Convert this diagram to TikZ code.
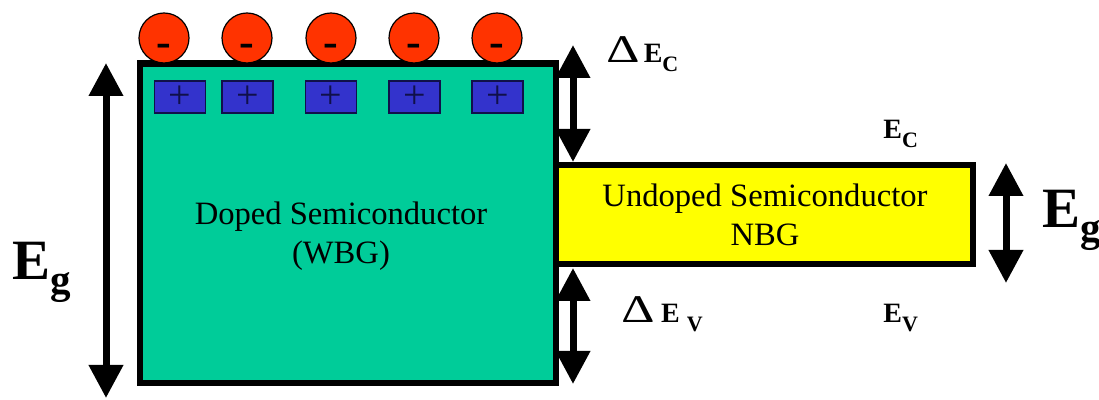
\documentclass[tikz,border=0pt]{standalone}
\usepackage{fontspec}
\setmainfont{Liberation Serif}
\usetikzlibrary{arrows.meta}

\definecolor{wbggreen}{HTML}{00CC99}
\definecolor{nbgyellow}{HTML}{FFFF00}
\definecolor{elecred}{HTML}{FF3300}
\definecolor{donorblue}{HTML}{3333CC}
\definecolor{donorline}{HTML}{10104A}

\tikzset{
	band/.style={draw, line width=3.3pt, line join=miter},
	gaparrow/.style={line width=3.5pt, <->},
	electron/.style={circle, draw, fill=elecred, line width=0.6pt, minimum size=25pt, inner sep=0pt},
	donor/.style={draw=donorline, fill=donorblue, line width=0.6pt, minimum width=25.5pt, minimum height=16pt, inner sep=0pt, text=donorline, font=\fontsize{20}{20}\selectfont},
	elabel/.style={anchor=base west, inner sep=0pt, font=\fontsize{14}{14}\selectfont\bfseries},
	biglabel/.style={anchor=base west, inner sep=0pt, font=\fontsize{28.5}{30}\selectfont\bfseries},
}
\newcommand{\lowsub}[1]{\raisebox{-4.5pt}{\fontsize{11}{11}\selectfont #1}}
\newcommand{\gsub}[1]{\raisebox{-7pt}{\fontsize{20.5}{21}\selectfont #1}}
\newcommand{\deltasym}{\scalebox{1.85}[1.4]{\mdseries ∆}}

\begin{document}
\begin{tikzpicture}[x=0.5pt, y=-0.5pt, >={Triangle[width=16.5pt,length=16.5pt]}, font=\fontsize{16.3}{19.5}\selectfont]
	\useasboundingbox (0,0) rectangle (1099,400);
	
	\coordinate (W1) at (140,63.5);
	\coordinate (W2) at (556,383);
	\coordinate (N1) at (556,165);
	\coordinate (N2) at (973,264);
	
	\draw[band, fill=nbgyellow] (N1) rectangle (N2);
	\draw[band, fill=wbggreen] (W1) rectangle (W2);
	
	\node[align=center] (wbg) at (341,236) {Doped Semiconductor\\(WBG)};
	\node[align=center] (nbg) at (765,215) {Undoped Semiconductor\\NBG};
	
	\foreach \x [count=\i] in {180,247.5,331,414.5,497.5} {
		\node[donor] (d\i) at (\x,97) {+};
	}
	\foreach \x [count=\i] in {164,247,331,414,497} {
		\node[electron] (e\i) at (\x,38) {};
		\node[inner sep=0pt, font=\fontsize{22}{22}\selectfont\bfseries] (m\i) at ([yshift=-6pt]e\i.center) {-};
	}
	
	\coordinate (EgTop) at (106,63);
	\coordinate (EgBot) at (106,398);
	\coordinate (EcTop) at (573,45);
	\coordinate (EcBot) at (573,162);
	\coordinate (EvTop) at (573,268);
	\coordinate (EvBot) at (573,384);
	\coordinate (NgTop) at (1006,163);
	\coordinate (NgBot) at (1006,283);
	
	\draw[gaparrow] (EgTop) -- (EgBot);
	\draw[gaparrow] (EcTop) -- (EcBot);
	\draw[gaparrow] (EvTop) -- (EvBot);
	\draw[gaparrow] (NgTop) -- (NgBot);
	
	\node[elabel] (dEc) at (607,63) {\deltasym\,E\lowsub{C}};
	\node[elabel] (dEv) at (622,323) {\deltasym\ E \lowsub{V}};
	\node[elabel] (Ec) at (883,139) {E\lowsub{C}};
	\node[elabel] (Ev) at (883,323) {E\lowsub{V}};
	\node[biglabel] (EgL) at (12,280) {E\gsub{g}};
	\node[biglabel] (EgR) at (1042,228) {E\gsub{g}};
\end{tikzpicture}
\end{document}
